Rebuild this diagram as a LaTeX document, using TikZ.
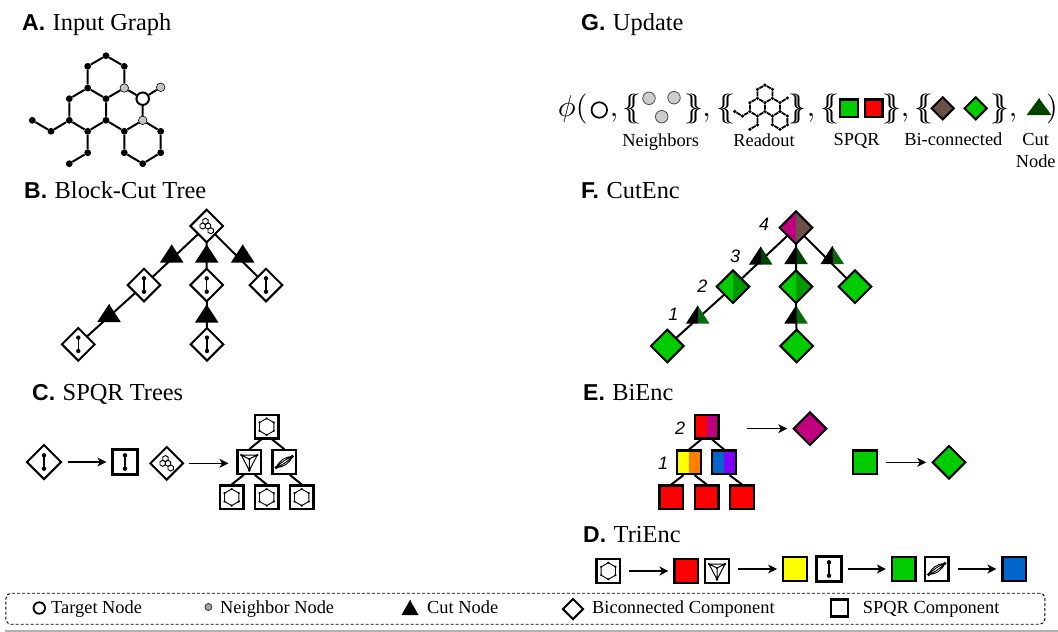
\documentclass[tikz,border=0pt]{standalone}
\usepackage{fontspec}
\setmainfont{Liberation Serif}
\setsansfont{Liberation Sans}
\usetikzlibrary{shapes.geometric,arrows.meta,backgrounds,calc}
\definecolor{gr}{HTML}{00CC00}
\definecolor{grd}{HTML}{009900}
\definecolor{rd}{HTML}{FF0000}
\definecolor{yl}{HTML}{FFFF00}
\definecolor{org}{HTML}{FF8000}
\definecolor{blu}{HTML}{0066CC}
\definecolor{pur}{HTML}{8000FF}
\definecolor{mag}{HTML}{BF007F}
\definecolor{brn}{HTML}{6B5147}
\definecolor{dg}{HTML}{004400}
\definecolor{dg2}{HTML}{0A6A0A}
\definecolor{atomgrey}{HTML}{C4C4C4}
\tikzset{
  x=1pt,y=-1pt,
  bond/.style={line width=2pt},
  edgeln/.style={line width=2pt},
  atomk/.style={circle,fill=black,inner sep=0pt,minimum size=6.8pt},
  atomg/.style={circle,fill=atomgrey,draw=black,line width=.6pt,inner sep=0pt,minimum size=8.5pt},
  atomt/.style={circle,fill=white,draw=black,line width=2pt,inner sep=0pt,minimum size=12.5pt},
  squ/.style={rectangle,draw=black,line width=2.2pt,fill=white,inner sep=0pt,minimum size=23.5pt},
  diam/.style={diamond,aspect=1,draw=black,line width=2pt,fill=white,inner sep=0pt,minimum size=33.5pt},
  split/.style 2 args={path picture={
     \fill[#1] (path picture bounding box.south west) rectangle (path picture bounding box.north);
     \fill[#2] (path picture bounding box.south) rectangle (path picture bounding box.north east);}},
  tri/.style 2 args={rectangle,inner sep=0pt,minimum width=23.5pt,minimum height=18pt,path picture={
     \fill[#2] (path picture bounding box.south) -- (path picture bounding box.south east) -- (path picture bounding box.north) -- cycle;
     \fill[#1] (path picture bounding box.south west) -- ([xshift=.5pt]path picture bounding box.south) -- ([xshift=.5pt]path picture bounding box.north) -- (path picture bounding box.north) -- cycle;}},
  arr/.style={-{Stealth[length=9pt,width=9pt,inset=2.5pt]},line width=1.1pt,shorten <=5pt,shorten >=5pt},
  head/.style={anchor=base west,inner sep=0pt},
  lab/.style={inner sep=0pt,font=\fontsize{18.4}{20}\selectfont},
  numl/.style={inner sep=0pt,font=\fontsize{18}{20}\selectfont\sffamily\itshape},
  bigm/.style={anchor=base,inner sep=0pt,scale=3},
  mol/.pic={
    \node[atomk] (-t) at (106,55.7) {};
    \node[atomk] (-a) at (87.7,66.3) {};
    \node[atomk] (-b) at (124.3,66.3) {};
    \node[atomk] (-c) at (87.7,88) {};
    \node[atomg] (-d) at (124.3,88) {};
    \node[atomk] (-e) at (106,98.7) {};
    \node[atomk] (-f) at (69.3,98.7) {};
    \node[atomk] (-g) at (69.3,120.3) {};
    \node[atomk] (-h) at (106,120.3) {};
    \node[atomk] (-i) at (87.7,131.3) {};
    \node[atomk] (-j) at (124.3,131.3) {};
    \node[atomt] (-k) at (142.7,98.7) {};
    \node[atomg] (-l) at (160.7,87.3) {};
    \node[atomg] (-m) at (142.7,120.3) {};
    \node[atomk] (-n) at (160.7,131.3) {};
    \node[atomk] (-o) at (160.7,152.7) {};
    \node[atomk] (-p) at (142.7,163.7) {};
    \node[atomk] (-q) at (124.3,152.7) {};
    \node[atomk] (-r) at (51,131.3) {};
    \node[atomk] (-s) at (32.3,120.3) {};
    \node[atomk] (-u) at (87.7,152.7) {};
    \node[atomk] (-v) at (69.3,163.7) {};
    \draw[bond] (-t)--(-a) (-t)--(-b) (-a)--(-c) (-b)--(-d) (-c)--(-e) (-d)--(-e)
      (-c)--(-f) (-f)--(-g) (-g)--(-i) (-i)--(-h) (-h)--(-e) (-h)--(-j) (-j)--(-m)
      (-m)--(-k) (-k)--(-d) (-k)--(-l) (-m)--(-n) (-n)--(-o) (-o)--(-p) (-p)--(-q)
      (-q)--(-j) (-g)--(-r) (-r)--(-s) (-i)--(-u) (-u)--(-v);
  },
  qicon/.pic={
    \draw[line width=1.5pt] (0,-6.7)--(0,6.7);
    \fill (0,-6.7) circle (2.2pt) (0,6.7) circle (2.2pt);
  },
  hexicon/.pic={
    \draw[line width=.9pt] (90:8.3)--(30:8.3)--(-30:8.3)--(-90:8.3)--(-150:8.3)--(150:8.3)--cycle;
    \foreach \a in {90,30,-30,-90,-150,150}{\fill (\a:8.3) circle (1.2pt);}
  },
  ricon/.pic={
    \draw[line width=1pt] (-8,-7)--(8,-7)--(0,8.5)--cycle (-8,-7)--(0,-3)--(8,-7) (0,-3)--(0,8.5) (-8,-7)--(0,8.5);
    \fill (-8,-7) circle (1.3pt) (8,-7) circle (1.3pt) (0,8.5) circle (1.3pt) (0,-3) circle (1.2pt);
  },
  picon/.pic={
    \draw[line width=.9pt] (-8,5.5) to[bend left=32] (8,-5.5) (-8,5.5) to[bend right=32] (8,-5.5)
      (-8,5.5) to[bend left=12] (8,-5.5) (-8,5.5) to[bend right=12] (8,-5.5);
    \fill (-8,5.5) circle (1.9pt) (8,-5.5) circle (1.9pt);
  },
  blockicon/.pic={
    \foreach \cx/\cy in {-1.3/-4.7,-4/0,1.3/0,4/4.7}{
      \draw[line width=.9pt,black] (\cx,\cy) ++(90:3.1) -- ++(-30:3.1) -- ++(-90:3.1) -- ++(-150:3.1) -- ++(150:3.1) -- ++(90:3.1) -- cycle;
    }
  },
}
\newcommand{\hd}[2]{{\fontsize{23}{26}\selectfont\sffamily\bfseries #1}\hspace{7.5pt}{\fontsize{24.4}{26}\selectfont #2}}
\newcommand{\dbo}{$\{\kern-3.9pt\{$}
\newcommand{\dbc}{$\}\kern-3.9pt\}$}
\begin{document}
\begin{tikzpicture}
\useasboundingbox (0,0) rectangle (1058,632);

% headings
\node[head] (hA) at (22,30) {\hd{A.}{Input Graph}};
\node[head] (hB) at (24,198) {\hd{B.}{Block-Cut Tree}};
\node[head] (hC) at (32,400) {\hd{C.}{SPQR Trees}};
\node[head] (hG) at (581,30) {\hd{G.}{Update}};
\node[head] (hF) at (581,198) {\hd{F.}{CutEnc}};
\node[head] (hE) at (583,400) {\hd{E.}{BiEnc}};
\node[head] (hD) at (583,542.7) {\hd{D.}{TriEnc}};

% A
\pic (ma) at (0,0) {mol};

% G
\node[bigm] (gphi) at (566.7,116) {$\phi$};
\node[bigm] (gpar) at (581.7,116) {$($};
\node[circle,draw=black,line width=1.7pt,fill=white,inner sep=0pt,minimum size=15.5pt] (gt) at (599.3,110) {};
\node[bigm] (gc1) at (614,116) {$,$};
\node[bigm] (gb1) at (632,116) {\dbo};
\foreach \n/\px/\py in {a/649/98.3,b/674/97.7,c/661.7/116.7}{
  \node[circle,draw=black!70,line width=.8pt,fill=black!20,inner sep=0pt,minimum size=12.5pt] (gn\n) at (\px,\py) {};
}
\node[bigm] (gb1c) at (694,116) {\dbc};
\node[bigm] (gc2) at (706.5,116) {$,$};
\node[bigm] (gb2) at (726,116) {\dbo};
\pic[scale=.41,atomk/.style={circle,fill=black,inner sep=0pt,minimum size=3.6pt},
     atomg/.style={circle,fill=black,inner sep=0pt,minimum size=3.6pt},
     atomt/.style={circle,fill=black,inner sep=0pt,minimum size=3.6pt},
     bond/.style={line width=1.8pt}] (mr) at (721.5,62.2) {mol};
\node[bigm] (gb2c) at (797.5,116) {\dbc};
\node[bigm] (gc3) at (811,116) {$,$};
\node[bigm] (gb3) at (830,116) {\dbo};
\node[squ,minimum size=17.5pt,fill=gr] (gs1) at (849,108.3) {};
\node[squ,minimum size=17.5pt,fill=rd] (gs2) at (873.7,108.3) {};
\node[bigm] (gb3c) at (892,116) {\dbc};
\node[bigm] (gc4) at (905,116) {$,$};
\node[bigm] (gb4) at (924,116) {\dbo};
\node[diam,minimum size=23pt,fill=brn] (gd1) at (942.7,108.3) {};
\node[diam,minimum size=23pt,fill=gr] (gd2) at (975.7,108.3) {};
\node[bigm] (gb4c) at (1000,116) {\dbc};
\node[bigm] (gc5) at (1013,116) {$,$};
\node[tri={dg}{dg},minimum width=25pt,minimum height=17pt] (gtri) at (1039,106.7) {};
\node[bigm] (gparc) at (1052,116) {$)$};
\node[lab,anchor=base] (l1) at (660.7,146.7) {Neighbors};
\node[lab,anchor=base] (l2) at (764,146.7) {Readout};
\node[lab,anchor=base] (l3) at (856.7,145) {SPQR};
\node[lab,anchor=base] (l4) at (953.3,145) {Bi-connected};
\node[lab,anchor=base] (l5) at (1035.7,145) {Cut};
\node[lab,anchor=base] (l6) at (1035.7,167.7) {Node};

% B
\node[diam] (b0) at (206.7,226) {};
\node[tri={black}{black}] (bt1) at (171.7,253.5) {};
\node[tri={black}{black}] (bt2) at (206.7,253.5) {};
\node[tri={black}{black}] (bt3) at (242.7,253.5) {};
\node[diam] (b1) at (144,285) {};
\node[diam] (b2) at (206.7,285) {};
\node[diam] (b3) at (266,285) {};
\node[tri={black}{black}] (bt4) at (109,313) {};
\node[tri={black}{black}] (bt5) at (206.7,313.5) {};
\node[diam] (b4) at (78.3,344.3) {};
\node[diam] (b5) at (207,344.3) {};
\pic at (b0.center) {blockicon};
\foreach \n in {b1,b2,b3,b4,b5}{\pic at (\n.center) {qicon};}
\begin{pgfonlayer}{background}
\draw[edgeln] (b0.center)--(b1.center) (b0.center)--(b2.center) (b0.center)--(b3.center)
  (b1.center)--(b4.center) (b2.center)--(b5.center);
\end{pgfonlayer}

% F
\node[diam,split={mag}{brn}] (f0) at (796,227.7) {};
\node[tri={black}{dg}] (ft1) at (760.7,255.5) {};
\node[tri={black}{dg}] (ft2) at (796,255) {};
\node[tri={black}{dg2}] (ft3) at (832.3,255) {};
\node[diam,split={gr}{grd}] (f1) at (733,286.7) {};
\node[diam,split={gr}{grd}] (f2) at (796,286.7) {};
\node[diam,fill=gr] (f3) at (855,286.7) {};
\node[tri={black}{dg2}] (ft4) at (697.7,314.5) {};
\node[tri={black}{dg2}] (ft5) at (796,314.5) {};
\node[diam,fill=gr] (f4) at (667.3,346) {};
\node[diam,fill=gr] (f5) at (796.7,346) {};
\node[numl] (n4) at (764,224) {4};
\node[numl] (n3) at (735,256.7) {3};
\node[numl] (n2) at (702.3,286) {2};
\node[numl] (n1) at (673.3,314) {1};
\begin{pgfonlayer}{background}
\draw[edgeln] (f0.center)--(f1.center) (f0.center)--(f2.center) (f0.center)--(f3.center)
  (f1.center)--(f4.center) (f2.center)--(f5.center);
\end{pgfonlayer}

% C
\node[diam,minimum size=35pt] (cq) at (44,462) {};
\node[squ,minimum size=25pt] (cqs) at (125,462) {};
\pic at (cq.center) {qicon};
\pic at (cqs.center) {qicon};
\draw[arr] (cq) -- (cqs);
\node[diam] (cb) at (166.7,463.3) {};
\pic at (cb.center) {blockicon};
\node[squ] (c0) at (266.7,426.7) {};
\node[squ] (c1) at (249.3,462) {};
\node[squ] (c2) at (284.3,462) {};
\node[squ] (c3) at (231.7,497.3) {};
\node[squ] (c4) at (266.7,497.3) {};
\node[squ] (c5) at (301.7,497.3) {};
\foreach \n in {c0,c3,c4,c5}{\pic at (\n.center) {hexicon};}
\pic at (c1.center) {ricon};
\pic at (c2.center) {picon};
\draw[edgeln] ([xshift=-5.5pt]c0.south)--(c1.north) ([xshift=5.5pt]c0.south)--(c2.north)
  ([xshift=-5.5pt]c1.south)--(c3.north) ([xshift=5.5pt]c1.south)--(c4.north)
  ([xshift=5.5pt]c2.south)--(c5.north);
\draw[arr,shorten >=8pt] (cb.east) -- (cb.east -| c1.west);

% E
\node[squ,split={rd}{mag}] (e0) at (706.7,426.7) {};
\node[squ,split={yl}{org}] (e1) at (689,462.3) {};
\node[squ,split={blu}{pur}] (e2) at (724,462.3) {};
\node[squ,fill=rd] (e3) at (671.3,497.3) {};
\node[squ,fill=rd] (e4) at (706.7,497.3) {};
\node[squ,fill=rd] (e5) at (742,497.3) {};
\draw[edgeln] ([xshift=-5.5pt]e0.south)--(e1.north) ([xshift=5.5pt]e0.south)--(e2.north)
  ([xshift=-5.5pt]e1.south)--(e3.north) ([xshift=5.5pt]e1.south)--(e4.north)
  ([xshift=5.5pt]e2.south)--(e5.north);
\node[numl] (en2) at (680,428) {2};
\node[numl] (en1) at (663,463) {1};
\node[diam,fill=mag] (ed1) at (810,428.7) {};
\draw[arr,shorten <=27pt] (e0.east |- ed1.west) -- (ed1.west);
\node[squ,fill=gr] (es) at (865,462.3) {};
\node[diam,fill=gr] (ed2) at (949,462.3) {};
\draw[arr,shorten <=8pt] (es) -- (ed2);

% D
\node[squ] (d1) at (608.3,571) {};
\node[squ,fill=rd] (d2) at (686.3,571) {};
\node[squ] (d3) at (717,571) {};
\node[squ,fill=yl] (d4) at (795,569) {};
\node[squ,minimum size=25pt] (d5) at (829,569) {};
\node[squ,fill=gr] (d6) at (903.7,569) {};
\node[squ] (d7) at (936.7,569) {};
\node[squ,fill=blu] (d8) at (1014.3,569) {};
\pic at (d1.center) {hexicon};
\pic at (d3.center) {ricon};
\pic at (d5.center) {qicon};
\pic at (d7.center) {picon};
\draw[arr,shorten <=8pt] (d1) -- (d2);
\draw[arr,shorten <=8pt] (d3.east |- d4.west) -- (d4.west);
\draw[arr] (d5) -- (d6);
\draw[arr,shorten <=8pt] (d7) -- (d8);

% legend
\node[draw=black,dash pattern=on 3pt off 2pt,line width=.9pt,rounded corners=5pt,inner sep=0pt,minimum width=1039pt,minimum height=31pt] (legend) at (525.4,608.7) {};
\node[circle,draw=black,line width=1.8pt,inner sep=0pt,minimum size=11.5pt] (k1) at (39.3,608) {};
\node[lab,anchor=base west] (kt1) at (51,613) {Target Node};
\node[circle,draw=black!80,line width=.8pt,fill=black!35,inner sep=0pt,minimum size=7pt] (k2) at (208.4,607) {};
\node[lab,anchor=base west] (kt2) at (220,613) {Neighbor Node};
\node[tri={black}{black},minimum width=17pt,minimum height=15pt] (k3) at (410,607.5) {};
\node[lab,anchor=base west] (kt3) at (427,613) {Cut Node};
\node[diam,minimum size=21pt] (k4) at (573,609) {};
\node[lab,anchor=base west] (kt4) at (592,613) {Biconnected Component};
\node[squ,minimum size=17pt] (k5) at (839.3,608) {};
\node[lab,anchor=base west] (kt5) at (862.7,613) {SPQR Component};
\coordinate (rl) at (5,631);
\coordinate (rr) at (1058,631);
\draw[line width=1.3pt,black!30] (rl) -- (rr);
\end{tikzpicture}
\end{document}
